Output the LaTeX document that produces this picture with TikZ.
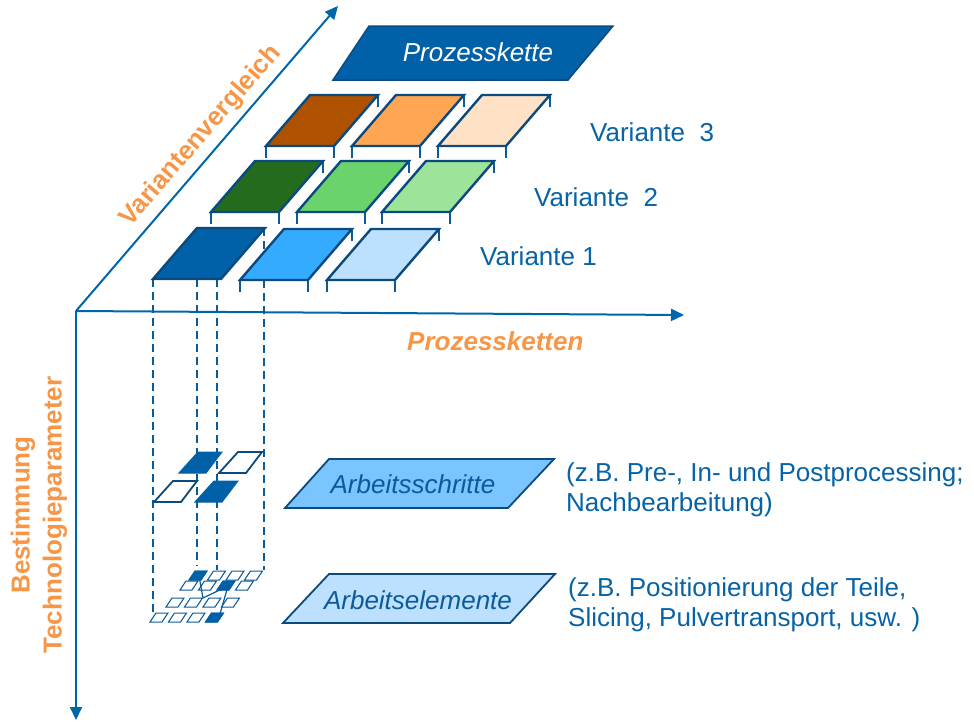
\documentclass[tikz,border=0pt]{standalone}
\usepackage{fontspec}
\setmainfont{Liberation Sans}
\usetikzlibrary{arrows.meta}

\definecolor{axisblue}{HTML}{0066AA}
\definecolor{edgeblue}{HTML}{0B4A7E}
\definecolor{txtblue}{HTML}{0563A6}
\definecolor{legblue}{HTML}{0B5A9A}
\definecolor{labelorange}{HTML}{F79646}
\definecolor{darkblue}{HTML}{0060A8}
\definecolor{midblue}{HTML}{35ABFF}
\definecolor{paleblue}{HTML}{BDE0FF}
\definecolor{skyblue}{HTML}{7AC5FF}
\definecolor{darkgreen}{HTML}{246B1E}
\definecolor{midgreen}{HTML}{6BD36B}
\definecolor{palegreen}{HTML}{9DE39A}
\definecolor{brown}{HTML}{AE5200}
\definecolor{midorange}{HTML}{FFA654}
\definecolor{paleorange}{HTML}{FFE2C6}

\tikzset{
  axis/.style={draw=axisblue, line width=2pt, -{Triangle[length=13pt,width=12pt]}},
  tileedge/.style={draw=edgeblue, line width=2.4pt, line join=miter},
  leg/.style={draw=legblue, line width=1.8pt},
  guide/.style={draw=legblue, line width=1.8pt, dash pattern=on 8pt off 5pt},
  bigquad/.style={draw=edgeblue, line width=1.8pt, fill=white, line join=miter},
  bigquadfill/.style={draw=darkblue, fill=darkblue, line width=1pt},
  smallquad/.style={draw=legblue, line width=1pt, fill=white},
  smallquadfill/.style={draw=darkblue, fill=darkblue, line width=0.8pt},
  lbl/.style={text=txtblue, font=\fontsize{26}{30}\selectfont, inner sep=0pt, anchor=west, align=left},
  axislbl/.style={text=labelorange, font=\fontsize{26}{32}\selectfont\bfseries, inner sep=0pt},
  boxlbl/.style={font=\fontsize{26}{30}\selectfont\itshape, inner sep=0pt}
}

% a platform: front-left corner (#1,#2), fill #3, legs at three visible corners
\newcommand\platform[3]{%
  \draw[leg] (#1,#2) -- ++(0,12);
  \draw[leg] (#1+68,#2) -- ++(0,12);
  \draw[leg] (#1+112,#2-51) -- ++(0,12);
  \draw[tileedge, fill=#3] (#1,#2) -- ++(68,0) -- ++(44,-51) -- ++(-68,0) -- cycle;
}
% one work step tile
\newcommand\stepquad[3]{%
  \draw[#3] (#1,#2) -- ++(27,0) -- ++(16,-21) -- ++(-24,0) -- cycle;
}
% one work element tile
\newcommand\elemquad[3]{%
  \draw[#3] (#1,#2) -- ++(12,0) -- ++(6,-9) -- ++(-12,0) -- cycle;
}

\begin{document}
\begin{tikzpicture}[x=1pt,y=-1pt]
\useasboundingbox (0,0) rectangle (974,723);

% axes
\coordinate (O) at (76,311);
\coordinate (vend) at (338,6);
\coordinate (hend) at (684,315);
\coordinate (dend) at (76,720);
\draw[axis] (O) -- (vend);
\draw[axis] (O) -- (hend);
\draw[axis, line cap=butt] (O) -- (dend);

% axis labels
\node[axislbl, rotate=49] (lblvar) at (201,136) {Variantenvergleich};
\node[axislbl, font=\fontsize{26}{32}\selectfont\bfseries\itshape, anchor=west] (lblpk) at (407,341) {Prozessketten};
\node[axislbl, rotate=90, align=center] (lbltech) at (39,515) {Bestimmung\\Technologieparameter};

% process chain header
\draw[tileedge, fill=darkblue, line width=1.5pt] (333,80) -- (568,80) -- (613,26) -- (369,26) -- cycle;
\node[boxlbl, text=white] (pk) at (478,52) {Prozesskette};

% variant 3 (back row)
\platform{266}{146}{brown}
\platform{352}{146}{midorange}
\platform{438}{146}{paleorange}
% variant 2
\platform{211}{212}{darkgreen}
\platform{297}{212}{midgreen}
\platform{382}{212}{palegreen}
% variant 1 (front row); the first platform is projected downwards
\draw[guide] (153,279) -- (153,614);
\draw[guide] (197,279) -- (197,566);
\draw[guide] (217,279) -- (217,570);
\draw[guide] (264,228) -- (264,570);
\draw[tileedge, fill=darkblue] (153,279) -- ++(68,0) -- ++(44,-51) -- ++(-68,0) -- cycle;
\platform{240}{280}{midblue}
\platform{327}{280}{paleblue}

% variant labels
\node[lbl] (v3) at (590,132) {Variante\ \ 3};
\node[lbl] (v2) at (534,197) {Variante\ \ 2};
\node[lbl] (v1) at (480,256) {Variante 1};

% work steps
\stepquad{179}{473}{bigquadfill}
\stepquad{219}{473}{bigquad}
\stepquad{154}{502}{bigquad}
\stepquad{195}{502}{bigquadfill}

% work elements
\foreach \r/\x/\y in {A/189/580, B/180/590, C/166/607, D/150/622}{
  \foreach \c in {0,1,2,3}{
    \elemquad{\x+\c*18.5}{\y}{smallquad}
  }
}
\elemquad{189}{580}{smallquadfill}
\elemquad{217}{590}{smallquadfill}
\elemquad{205.5}{622}{smallquadfill}
\draw[draw=legblue, line width=1.2pt] (199,576) -- (203,598) -- (228,586) -- (220,614);

% level boxes
\draw[draw=edgeblue, line width=1.8pt, fill=skyblue] (285,508) -- (508,508) -- (554,459) -- (329,459) -- cycle;
\node[boxlbl, text=legblue] (as) at (413,484) {Arbeitsschritte};
\draw[draw=edgeblue, line width=1.8pt, fill=paleblue] (283,623) -- (510,623) -- (555,574) -- (329,574) -- cycle;
\node[boxlbl, text=legblue] (ae) at (418,600) {Arbeitselemente};

% explanations
\node[lbl] (asx) at (566,490) {(z.B. Pre-, In- und Postprocessing;\\Nachbearbeitung)};
\node[lbl] (aex) at (568,605) {(z.B. Positionierung der Teile,\\Slicing, Pulvertransport, usw. )};
\end{tikzpicture}
\end{document}
